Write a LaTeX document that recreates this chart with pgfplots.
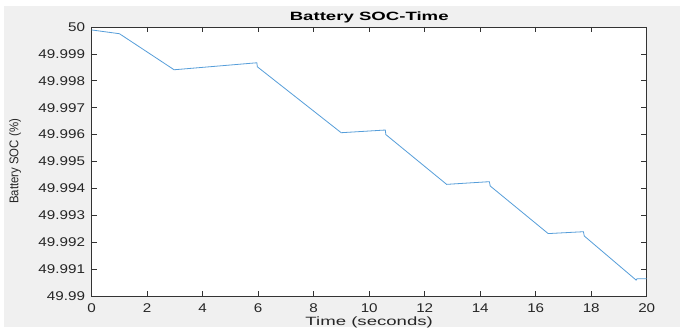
\documentclass[border=0pt]{standalone}
\usepackage{fontspec}
\setmainfont{Liberation Sans}
\newfontfamily\tickfont[FakeStretch=1.2]{Liberation Sans}
\newfontfamily\titlefont[FakeStretch=1.55]{Liberation Sans}
\newfontfamily\xlabfont[FakeStretch=1.55]{Liberation Sans}
\newfontfamily\ylabfont[FakeStretch=0.9]{Liberation Sans}
\usepackage{pgfplots}
\pgfplotsset{compat=1.18}
\definecolor{mgray}{RGB}{240,240,240}
\definecolor{mblue}{RGB}{86,158,218}
\begin{document}
\begin{tikzpicture}[x=0.75pt,y=0.75pt]
\fill[white] (0,0) rectangle (680,329);
\fill[mgray] (4,2) rectangle (680,323);
\begin{axis}[
  at={(91.7*0.75pt,33*0.75pt)}, anchor=south west,
  scale only axis, width=555*0.75pt, height=269*0.75pt,
  xmin=0, xmax=20, ymin=49.99, ymax=50,
  xtick={0,2,...,20},
  ytick={49.99,49.991,49.992,49.993,49.994,49.995,49.996,49.997,49.998,49.999,50},
  yticklabels={49.99,49.991,49.992,49.993,49.994,49.995,49.996,49.997,49.998,49.999,50},
  scaled y ticks=false,
  tick align=inside, tick pos=both,
  major tick length=4pt,
  axis background/.style={fill=white},
  axis line style={draw=black!80, line width=0.5pt},
  every tick/.style={black!80, line width=0.5pt},
  tick label style={font=\tickfont\fontsize{9.5}{11}\selectfont, text=black!85},
  /pgf/number format/assume math mode=true,
  xticklabel style={yshift=-2pt},
  yticklabel style={xshift=-1.5pt},
  title={\textbf{Battery SOC-Time}},
  title style={font=\titlefont\fontsize{9}{11}\selectfont, at={(rel axis cs:0.5,1.0372)}, anchor=center, yshift=-6pt},
  xlabel={Time (seconds)},
  xlabel style={font=\xlabfont\fontsize{9}{11}\selectfont, at={(rel axis cs:0.5,-0.0967)}, anchor=center, text=black!85},
  ylabel={Battery SOC (\%)},
  ylabel style={font=\ylabfont\fontsize{9.5}{11}\selectfont, at={(rel axis cs:-0.1382,0.5)}, anchor=center, text=black!85},
]
\addplot[mblue, line width=0.6pt] coordinates {
(0,49.99989) (1.0,49.99975) (2.97,49.99841) (5.95,49.99867) (5.97,49.99852)
(8.99,49.99607) (10.58,49.99617) (10.6,49.99600) (12.79,49.99415)
(14.33,49.99425) (14.36,49.99409) (16.45,49.99232) (17.72,49.99239)
(17.75,49.99223) (19.62,49.99059) (19.65,49.99064) (20,49.99064)
};
\end{axis}
\end{tikzpicture}
\end{document}
